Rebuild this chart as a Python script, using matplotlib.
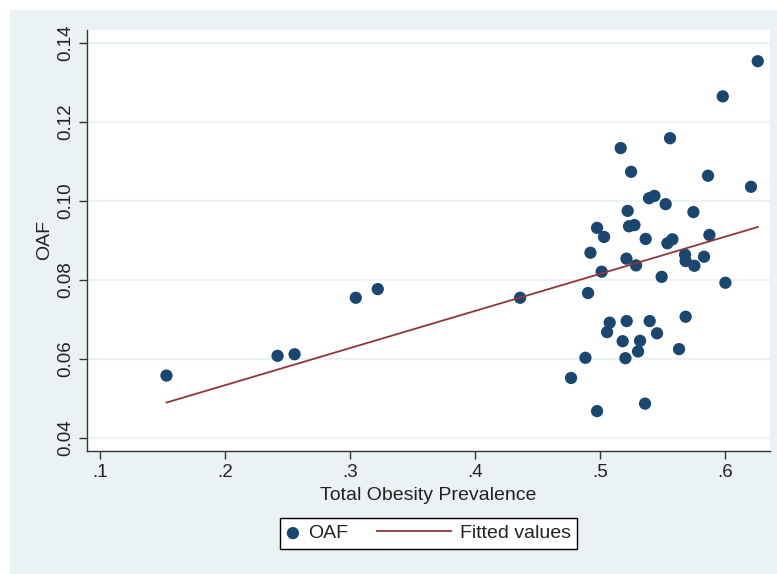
import numpy as np
import matplotlib
matplotlib.use("Agg")
import matplotlib.pyplot as plt
from matplotlib.patches import Rectangle
from matplotlib.legend_handler import HandlerPathCollection

plt.rcParams['font.family'] = ['Liberation Sans', 'DejaVu Sans']

# Total obesity prevalence (x) and OAF (y)
prevalence = [0.153, 0.2419, 0.2555, 0.3045, 0.3221, 0.436,
              0.556, 0.5165, 0.5248, 0.5864, 0.6208, 0.5392, 0.5435, 0.5525,
              0.5221, 0.5747, 0.4976, 0.5232, 0.5275, 0.5032, 0.5875, 0.5365,
              0.5539, 0.5579, 0.4923, 0.5211, 0.5680, 0.5685, 0.5832, 0.5755,
              0.5288, 0.5013, 0.5493, 0.6003, 0.4904, 0.5685, 0.5077, 0.5213,
              0.5397, 0.5056, 0.5456, 0.5181, 0.532, 0.5304, 0.5632, 0.4883,
              0.5203, 0.4768, 0.536, 0.4976, 0.6262, 0.5982]
oaf = [0.0557, 0.0607, 0.0611, 0.0754, 0.0776, 0.0754,
       0.1158, 0.1133, 0.1073, 0.1063, 0.1035, 0.1006, 0.1012, 0.0991,
       0.0974, 0.0971, 0.0931, 0.0935, 0.0938, 0.0908, 0.0913, 0.0903,
       0.0892, 0.0902, 0.0868, 0.0853, 0.0863, 0.0847, 0.0858, 0.0835,
       0.0836, 0.0820, 0.0807, 0.0792, 0.0766, 0.0706, 0.0691, 0.0695,
       0.0695, 0.0667, 0.0664, 0.0644, 0.0645, 0.0618, 0.0624, 0.0602,
       0.0601, 0.0551, 0.0486, 0.0467, 0.1353, 0.1264]

x_ticks = [0.1, 0.2, 0.3, 0.4, 0.5, 0.6]
x_tick_labels = ['.1', '.2', '.3', '.4', '.5', '.6']
y_ticks = [0.04, 0.06, 0.08, 0.10, 0.12, 0.14]
y_tick_labels = ['0.04', '0.06', '0.08', '0.10', '0.12', '0.14']

NAVY = '#1a476f'
MAROON = '#90353b'
BG = '#eaf2f3'

W, H = 777, 574
fig = plt.figure(figsize=(W / 100, H / 100), dpi=100, facecolor='white')
bg = Rectangle((10 / W, 0), 1 - 10 / W, 1 - 10 / H,
               transform=fig.transFigure, facecolor=BG, edgecolor='none')
bg.set_zorder(-10)
fig.add_artist(bg)

ax = fig.add_axes([87 / W, (H - 451) / H, (770 - 87) / W, (451 - 30) / H])
ax.set_zorder(1)
ax.set_facecolor('white')

x = np.array(prevalence)
y = np.array(oaf)
slope, intercept = np.polyfit(x, y, 1)
xf = np.array([x.min(), x.max()])
yf = intercept + slope * xf

ax.set_axisbelow(True)
ax.grid(axis='y', color=BG, linewidth=1.6)
sc = ax.scatter(x, y, s=78, color=NAVY, edgecolors='none', zorder=3, label='OAF')
ln, = ax.plot(xf, yf, color=MAROON, linewidth=1.3, zorder=4, label='Fitted values')

ax.set_xlim(0.0894, 0.636)
ax.set_ylim(0.0366, 0.1432)
ax.set_xticks(x_ticks)
ax.set_xticklabels(x_tick_labels)
ax.set_yticks(y_ticks)
ax.set_yticklabels(y_tick_labels, rotation=90, va='center')

for s in ['top', 'right']:
    ax.spines[s].set_visible(False)
for s in ['left', 'bottom']:
    ax.spines[s].set_color('#333333')
    ax.spines[s].set_linewidth(1.0)
ax.tick_params(axis='both', direction='out', length=5.5, width=1.0,
               color='#333333', labelsize=13.5, labelcolor='#222222')
ax.tick_params(axis='y', pad=4)
ax.tick_params(axis='x', pad=4)

ax.set_xlabel('Total Obesity Prevalence', fontsize=14, color='#222222', labelpad=4)
ax.set_ylabel('OAF', fontsize=14, color='#222222', labelpad=3)


class SmallMarkerHandler(HandlerPathCollection):
    def legend_artist(self, legend, orig_handle, fontsize, handlebox):
        handlebox.width = 0.62 * fontsize
        return super().legend_artist(legend, orig_handle, fontsize, handlebox)


leg = fig.legend(handles=[sc, ln], labels=['OAF', 'Fitted values'],
                 loc='center', bbox_to_anchor=(428.7 / W, 1 - 533.4 / H),
                 ncol=2, fontsize=14, frameon=True, fancybox=False,
                 edgecolor='black', facecolor='white', framealpha=1,
                 borderpad=0.34, handlelength=3.8, handletextpad=0.45,
                 columnspacing=1.5, scatterpoints=1,
                 handler_map={type(sc): SmallMarkerHandler()})
leg.get_frame().set_linewidth(1.0)
for t in leg.get_texts():
    t.set_color('#222222')

fig.savefig('out.png', dpi=100, facecolor=fig.get_facecolor())
